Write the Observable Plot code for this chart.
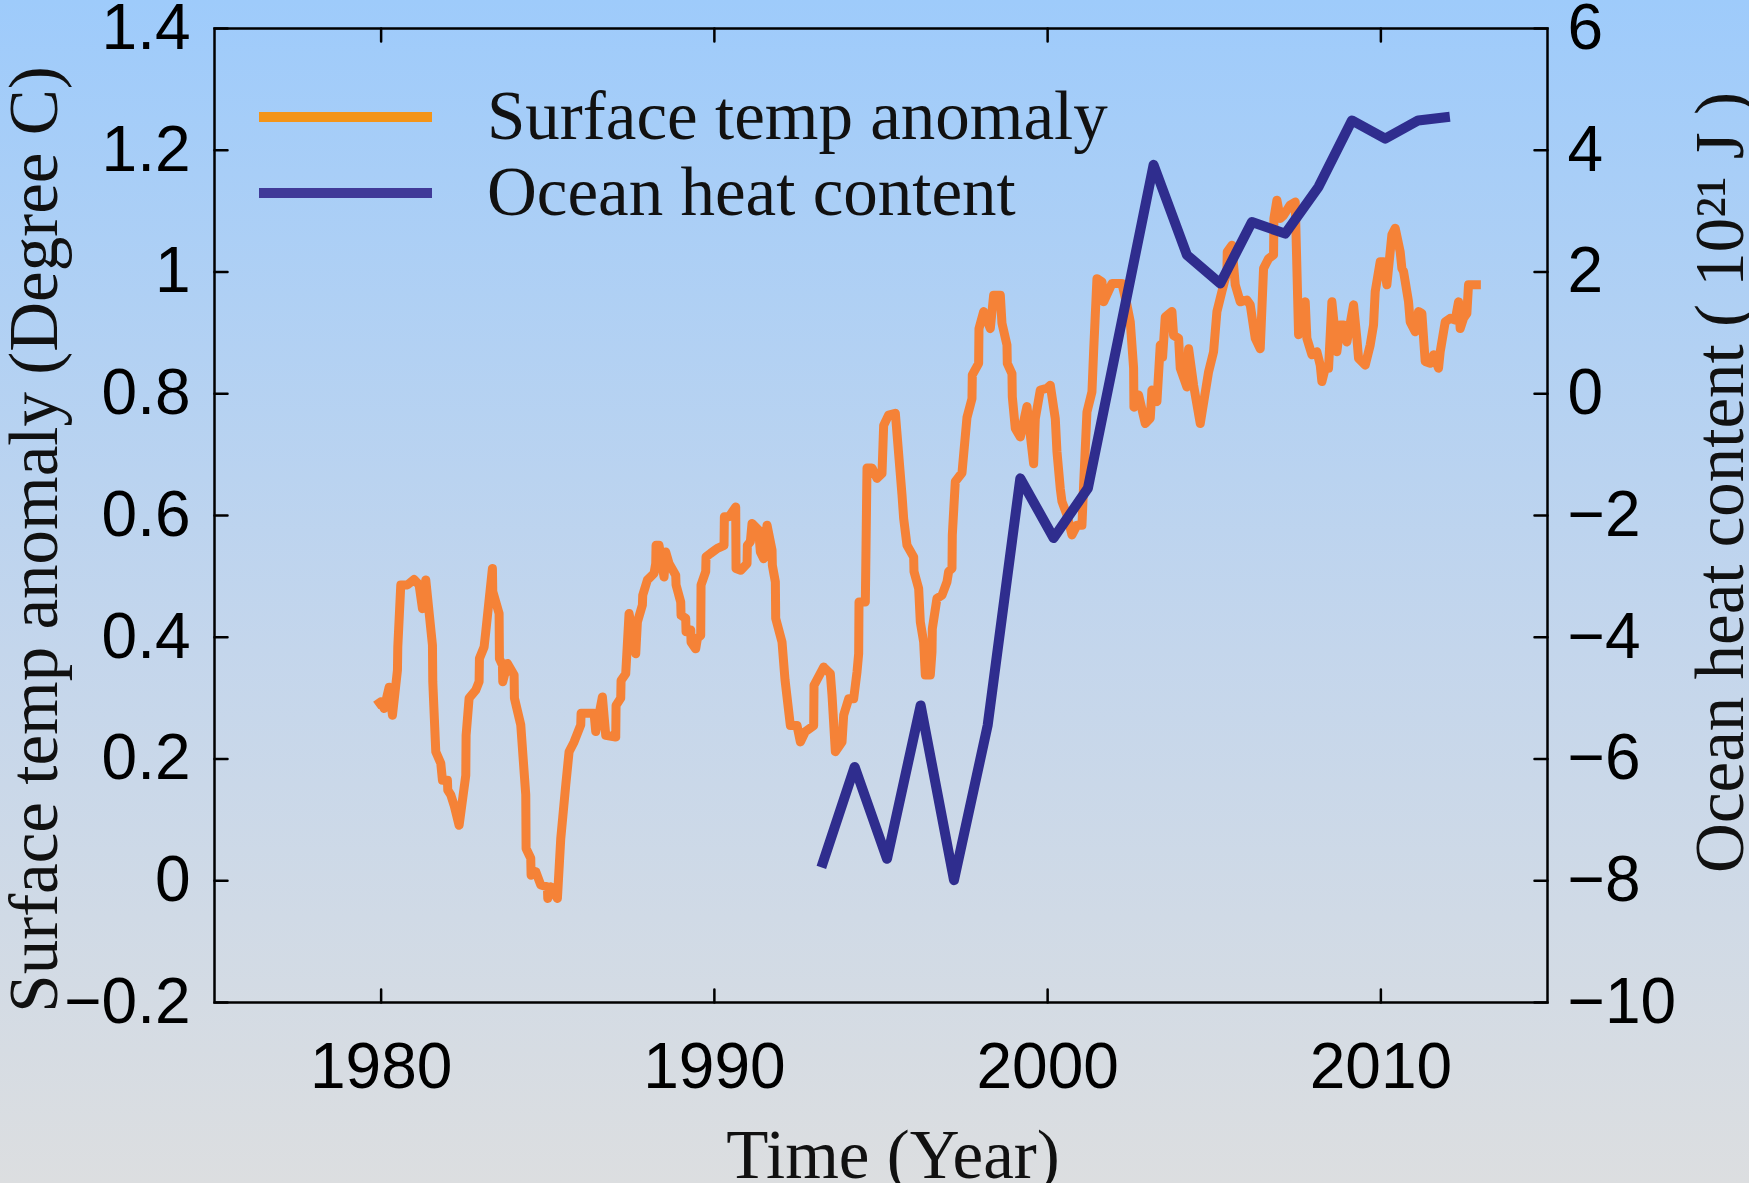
<!DOCTYPE html>
<html>
<head>
<meta charset="utf-8">
<script src="https://cdn.jsdelivr.net/npm/d3@7"></script>
<script src="https://cdn.jsdelivr.net/npm/@observablehq/plot@0.6"></script>
<style>
  html, body { margin: 0; padding: 0; }
  #wrap { position: relative; width: 1749px; height: 1183px; overflow: hidden;
          background: linear-gradient(to bottom, #9ecbfb 0%, #c4d6ec 55%, #dcdee0 100%); }
  #wrap svg.overlay { position: absolute; left: 0; top: 0; pointer-events: none; }
</style>
</head>
<body>
<div id="wrap"></div>
<script>
// ---------------- data ----------------
const tempYears = [
  1979.84,1979.99,1980.09,1980.24,1980.34,1980.44,1980.49,1980.50,1980.59,1980.79,
  1980.99,1981.14,1981.24,1981.34,1981.54,1981.55,1981.64,1981.79,1981.84,1981.99,
  1982.00,1982.09,1982.19,1982.34,1982.54,1982.55,1982.64,1982.84,1982.94,1982.95,
  1983.09,1983.14,1983.34,1983.35,1983.54,1983.55,1983.64,1983.65,1983.79,1983.99,
  1984.00,1984.19,1984.34,1984.35,1984.49,1984.50,1984.64,1984.79,1984.99,1985.00,
  1985.09,1985.29,1985.39,1985.54,1985.64,1985.79,1985.99,1986.00,1986.39,1986.44,
  1986.64,1986.74,1987.04,1987.05,1987.19,1987.20,1987.34,1987.44,1987.64,1987.69,
  1987.84,1987.85,1987.99,1988.19,1988.24,1988.25,1988.34,1988.49,1988.54,1988.64,
  1988.84,1988.85,1988.99,1989.00,1989.14,1989.15,1989.29,1989.30,1989.44,1989.49,
  1989.59,1989.60,1989.74,1989.75,1989.89,1990.09,1990.29,1990.30,1990.44,1990.64,
  1990.65,1990.79,1990.98,1990.99,1991.08,1991.13,1991.33,1991.38,1991.48,1991.58,
  1991.73,1991.74,1991.83,1991.84,1992.03,1992.12,1992.28,1992.48,1992.58,1992.73,
  1992.98,1992.99,1993.28,1993.48,1993.53,1993.63,1993.83,1993.88,1994.03,1994.18,
  1994.28,1994.33,1994.34,1994.53,1994.58,1994.73,1994.88,1995.03,1995.08,1995.23,
  1995.43,1995.63,1995.68,1995.78,1995.98,1995.99,1996.13,1996.18,1996.28,1996.33,
  1996.48,1996.53,1996.54,1996.68,1996.83,1996.98,1997.03,1997.13,1997.14,1997.23,
  1997.43,1997.58,1997.73,1997.74,1997.93,1997.94,1998.08,1998.28,1998.38,1998.58,
  1998.63,1998.78,1998.79,1998.93,1998.94,1999.03,1999.18,1999.38,1999.58,1999.63,
  1999.78,1999.98,2000.08,2000.23,2000.28,2000.38,2000.43,2000.58,2000.73,2000.88,
  2001.03,2001.08,2001.18,2001.33,2001.38,2001.48,2001.63,2001.68,2001.93,2002.23,
  2002.38,2002.48,2002.58,2002.59,2002.73,2002.93,2003.08,2003.13,2003.28,2003.38,
  2003.45,2003.53,2003.73,2003.78,2003.93,2003.98,2004.18,2004.23,2004.38,2004.58,
  2004.83,2004.98,2005.03,2005.08,2005.23,2005.38,2005.39,2005.53,2005.63,2005.78,
  2005.98,2006.08,2006.23,2006.38,2006.48,2006.63,2006.78,2006.79,2006.88,2006.98,
  2007.08,2007.28,2007.43,2007.53,2007.73,2007.78,2007.93,2008.08,2008.18,2008.23,
  2008.33,2008.43,2008.53,2008.68,2008.78,2008.88,2008.98,2009.18,2009.28,2009.33,
  2009.53,2009.68,2009.78,2009.83,2009.98,2010.08,2010.18,2010.33,2010.43,2010.58,
  2010.63,2010.68,2010.83,2010.88,2011.03,2011.13,2011.23,2011.33,2011.48,2011.58,
  2011.73,2011.78,2011.93,2012.08,2012.23,2012.33,2012.38,2012.48,2012.58,2012.63,
  2013.00
];
const tempAnomaly = [
  0.288,0.294,0.283,0.318,0.272,0.321,0.346,0.384,0.486,0.486,
  0.495,0.486,0.447,0.494,0.387,0.327,0.212,0.193,0.165,0.165,
  0.149,0.141,0.124,0.091,0.173,0.239,0.300,0.313,0.327,0.365,
  0.384,0.409,0.513,0.475,0.439,0.365,0.354,0.327,0.357,0.338,
  0.300,0.256,0.141,0.053,0.037,0.009,0.015,-0.007,-0.010,-0.029,
  -0.010,-0.029,0.069,0.157,0.212,0.228,0.256,0.275,0.275,0.245,
  0.302,0.239,0.236,0.288,0.300,0.329,0.340,0.439,0.373,0.425,
  0.453,0.469,0.494,0.505,0.521,0.551,0.551,0.499,0.540,0.521,
  0.502,0.486,0.458,0.436,0.431,0.409,0.412,0.392,0.381,0.398,
  0.403,0.486,0.508,0.532,0.538,0.546,0.551,0.598,0.598,0.614,
  0.513,0.510,0.521,0.551,0.557,0.587,0.576,0.540,0.529,0.584,
  0.543,0.518,0.491,0.431,0.392,0.330,0.255,0.255,0.228,0.245,
  0.255,0.321,0.351,0.340,0.305,0.212,0.228,0.272,0.299,0.299,
  0.343,0.373,0.458,0.458,0.678,0.678,0.661,0.669,0.748,0.765,
  0.768,0.634,0.595,0.551,0.532,0.508,0.480,0.425,0.392,0.338,
  0.338,0.376,0.414,0.464,0.469,0.491,0.508,0.513,0.568,0.656,
  0.670,0.761,0.792,0.831,0.850,0.907,0.935,0.907,0.962,0.962,
  0.916,0.880,0.850,0.833,0.795,0.743,0.729,0.779,0.685,0.759,
  0.806,0.809,0.814,0.759,0.705,0.644,0.623,0.601,0.568,0.584,
  0.584,0.650,0.770,0.803,0.869,0.989,0.984,0.951,0.981,0.981,
  0.946,0.918,0.842,0.778,0.798,0.751,0.760,0.806,0.787,0.880,
  0.860,0.926,0.935,0.896,0.891,0.842,0.811,0.874,0.814,0.751,
  0.836,0.869,0.902,0.935,0.968,1.000,1.033,1.044,0.979,0.951,
  0.954,0.946,0.891,0.874,1.006,1.022,1.028,1.088,1.118,1.088,
  1.093,1.110,1.115,0.897,0.951,0.891,0.864,0.869,0.847,0.820,
  0.842,0.842,0.951,0.869,0.913,0.913,0.885,0.946,0.891,0.858,
  0.847,0.880,0.913,0.968,1.017,1.017,0.979,1.061,1.072,1.033,
  1.006,1.001,0.951,0.918,0.902,0.935,0.932,0.853,0.850,0.864,
  0.842,0.869,0.918,0.924,0.921,0.951,0.907,0.924,0.932,0.979,
  0.979
];
const ohcYears  = [1993.21,1994.21,1995.18,1996.19,1997.19,1998.20,1999.18,2000.18,2001.21,
                   2003.18,2004.18,2005.18,2006.13,2007.13,2008.13,2009.13,2010.13,2011.12,2012.07];
const ohcValues = [-7.78,-6.13,-7.64,-5.12,-7.99,-5.45,-1.39,-2.37,-1.55,
                   3.76,2.28,1.81,2.82,2.63,3.40,4.49,4.19,4.49,4.55];

const xTicks     = [1980, 1990, 2000, 2010];
const leftTicks  = [-0.2, 0, 0.2, 0.4, 0.6, 0.8, 1, 1.2, 1.4];
const rightTicks = [-10, -8, -6, -4, -2, 0, 2, 4, 6];
const seriesNames = ["Surface temp anomaly", "Ocean heat content"];
const xTitle = "Time (Year)";
const yTitleLeft = "Surface temp anomaly (Degree C)";
const yTitleRight = "Ocean heat content ( 10\u00B2\u00B9 J )";

// ---------------- styling ----------------
const ORANGE = "#F58237", BLUE = "#2F2D8E";
const LEG_ORANGE = "#F49418", LEG_BLUE = "#403A98";
const SANS = "'Liberation Sans', Arial, Helvetica, sans-serif";
const SERIF = "'Liberation Serif', 'Times New Roman', serif";
const X0 = 1975, X1 = 2015, Y0 = -0.2, Y1 = 1.4;

// right axis (-10..6) mapped onto left axis (-0.2..1.4)
const toLeft = r => r * 0.1 + 0.8;
const fromLeft = v => Math.round((v - 0.8) * 10);
const minus = s => s.replace("-", "\u2212");
const fmtLeft = v => minus(String(+(+v).toFixed(1)));
const fmtRight = v => minus(String(fromLeft(v)));

const tempData = tempYears.map((x, i) => ({year: x, value: tempAnomaly[i]}));
const ohcData = ohcYears.map((x, i) => ({year: x, value: ohcValues[i]}));

const tickStyle = {stroke: "#000", strokeWidth: 2.5, r: 0, anchor: "start", length: 13};
const titleStyle = {text: d => d, fontSize: 69, fontFamily: SERIF, fill: "#111",
                    textAnchor: "middle", lineAnchor: "bottom"};

const chart = Plot.plot({
  width: 1749,
  height: 1183,
  marginLeft: 214,
  marginRight: 202,
  marginTop: 28,
  marginBottom: 181,
  style: {background: "transparent", overflow: "visible", color: "#000"},
  x: {domain: [X0, X1], label: null},
  y: {domain: [Y0, Y1], label: null},
  marks: [
    Plot.line(tempData, {x: "year", y: "value", stroke: ORANGE, strokeWidth: 9,
                         strokeLinejoin: "round", strokeLinecap: "butt"}),
    Plot.line(ohcData, {x: "year", y: d => toLeft(d.value), stroke: BLUE, strokeWidth: 10,
                        strokeLinejoin: "round", strokeLinecap: "butt"}),
    Plot.frame({stroke: "#000", strokeWidth: 2.5}),
    Plot.vector(leftTicks, {x: () => X0, y: d => d, rotate: 90, ...tickStyle}),
    Plot.vector(rightTicks, {x: () => X1, y: d => toLeft(d), rotate: -90, ...tickStyle}),
    Plot.vector(xTicks, {x: d => d, y: () => Y0, rotate: 0, ...tickStyle}),
    Plot.vector(xTicks, {x: d => d, y: () => Y1, rotate: 180, ...tickStyle}),
    Plot.axisY({ticks: leftTicks, anchor: "left", tickSize: 0, tickPadding: 24, tickFormat: fmtLeft,
                fontSize: 64, fontFamily: SANS, label: null}),
    Plot.axisY({ticks: rightTicks.map(toLeft), anchor: "right", tickSize: 0, tickPadding: 20,
                tickFormat: fmtRight, fontSize: 64, fontFamily: SANS, label: null}),
    Plot.axisX({ticks: xTicks, anchor: "bottom", tickSize: 0, tickPadding: 40,
                tickFormat: d => String(d), fontSize: 64, fontFamily: SANS, label: null}),
    Plot.text([xTitle], {frameAnchor: "bottom", dx: 12, dy: 175, ...titleStyle}),
    Plot.text([yTitleLeft], {frameAnchor: "left", rotate: -90, dx: -158, dy: 24, ...titleStyle}),
    Plot.text([yTitleRight], {frameAnchor: "right", rotate: -90, dx: 195, dy: -33, ...titleStyle})
  ]
});

const wrap = document.getElementById("wrap");
chart.style.display = "block";
wrap.appendChild(chart);

// legend overlay (inside the axes box, top-left)
const legendColors = [LEG_ORANGE, LEG_BLUE];
const leg = d3.select(wrap).append("svg")
  .attr("class", "overlay").attr("width", 1749).attr("height", 1183);
const items = leg.selectAll("g").data(seriesNames).join("g")
  .attr("transform", (d, i) => `translate(0, ${117 + i * 76})`);
items.append("line").attr("x1", 259).attr("x2", 432).attr("y1", 0).attr("y2", 0)
  .attr("stroke", (d, i) => legendColors[i]).attr("stroke-width", 10);
items.append("text").attr("x", 487).attr("y", 22).text(d => d)
  .attr("font-family", SERIF).attr("font-size", 69).attr("fill", "#111");
</script>
</body>
</html>
